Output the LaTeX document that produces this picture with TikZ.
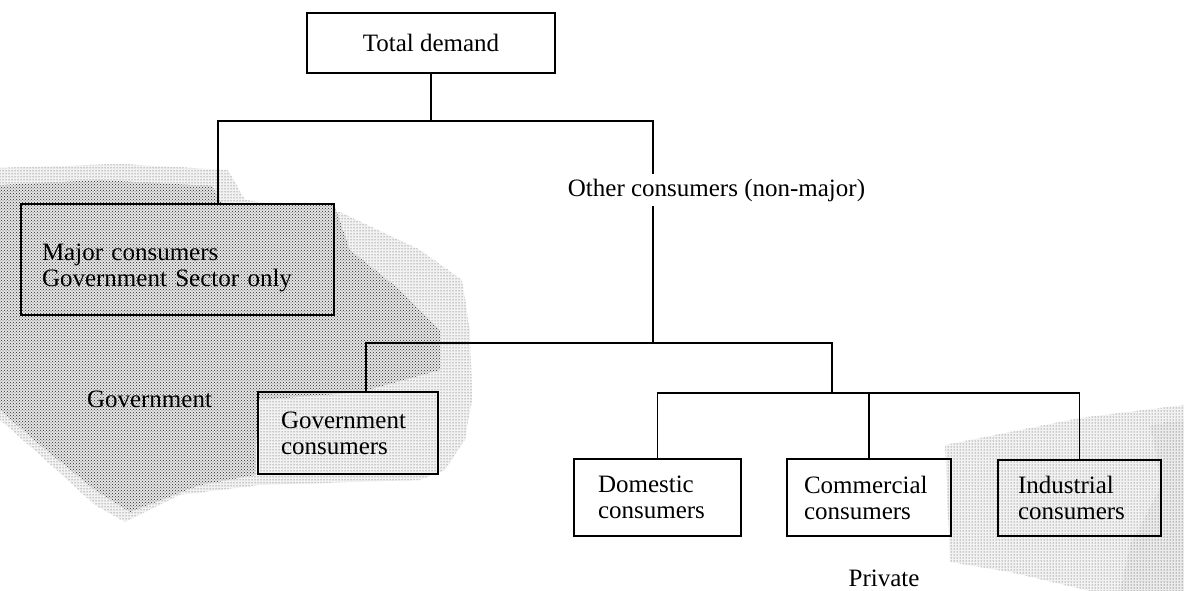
\documentclass[tikz,border=0pt]{standalone}
\usepackage{fontspec}
\setmainfont{Liberation Serif}
\usetikzlibrary{patterns}
\begin{document}
\begin{tikzpicture}[x=1pt,y=-1pt,
  txt/.style={font=\fontsize{25}{26}\selectfont},
  box/.style={txt, draw, line width=1.8pt, align=left, inner ysep=0pt},
  lbl/.style={txt, inner xsep=2pt, inner ysep=4.5pt},
  conn/.style={line width=1.8pt, line join=miter},
  shadelight/.style={fill=black!5, postaction={pattern=dots, pattern color=black!75}},
  shademid/.style={fill=black!8, postaction={pattern=dots, pattern color=black!85}},
  shadedense/.style={fill=black!10, postaction={pattern=crosshatch dots, pattern color=black!85}}]
\useasboundingbox (0,0) rectangle (1184,591);
% halftone background areas
\path[shadelight] (0,168) -- (120,164) -- (228,170) -- (245,200) -- (340,212) -- (420,250)
  -- (462,280) -- (470,330) -- (472,400) -- (465,440) -- (445,470) -- (420,480)
  -- (260,485) -- (180,495) -- (125,522) -- (95,505) -- (40,455) -- (0,420) -- cycle;
\path[shadedense] (0,185) -- (100,180) -- (212,186) -- (222,204) -- (334,204) -- (350,250)
  -- (400,290) -- (440,330) -- (440,370) -- (360,392) -- (258,400) -- (255,475)
  -- (200,485) -- (130,512) -- (95,490) -- (40,445) -- (0,410) -- cycle;
\path[shadelight] (945,445) -- (1080,418) -- (1184,405) -- (1184,591) -- (1090,591)
  -- (1010,572) -- (950,562) -- cycle;
\path[shademid] (1150,425) -- (1184,420) -- (1184,591) -- (1120,591) -- (1130,545)
  -- (1162,485) -- cycle;
% boxes
\node[box, align=center, minimum width=248pt, minimum height=60pt] (total) at (431,43) {Total demand};
\node[box, text width=271pt, inner xsep=21pt, minimum height=111pt] (major) at (177.5,259.5)
  {\rule{0pt}{33pt}Major consumers\\Government Sector only};
\node[box, text width=134pt, inner xsep=23pt, minimum height=82pt] (gov) at (348,433)
  {Government\\consumers};
\node[box, text width=119pt, inner xsep=24pt, minimum height=77pt] (domestic) at (657.5,497.5)
  {Domestic\\consumers};
\node[box, text width=130pt, inner xsep=17pt, minimum height=77pt] (commercial) at (869,497.5)
  {Commercial\\consumers};
\node[box, text width=123pt, inner xsep=20pt, minimum height=76pt] (industrial) at (1079.5,498)
  {Industrial\\consumers};
% labels
\node[lbl] (other) at (716.5,190) {Other consumers (non-major)};
\node[lbl] (govlbl) at (149.5,399) {Government};
\node[lbl] (private) at (884,578) {Private};
% junction points
\coordinate (a1) at (218,121);
\coordinate (a2) at (653,121);
\coordinate (b1) at (366,343);
\coordinate (b2) at (653,343);
\coordinate (b3) at (832,343);
\coordinate (c0) at (832,393);
% connectors
\draw[conn] (total.south) -- (total.south |- a1);
\draw[conn] (a1 |- major.north) -- (a1) -- (a2) -- (a2 |- other.north);
\draw[conn] (a2 |- other.south) -- (b2);
\draw[conn] (b1 |- gov.north) -- (b1) -- (b3) -- (c0);
\draw[conn] (domestic.north) -- (domestic.north |- c0) -- (industrial.north |- c0) -- (industrial.north);
\draw[conn] (commercial.north) -- (commercial.north |- c0);
\end{tikzpicture}
\end{document}
